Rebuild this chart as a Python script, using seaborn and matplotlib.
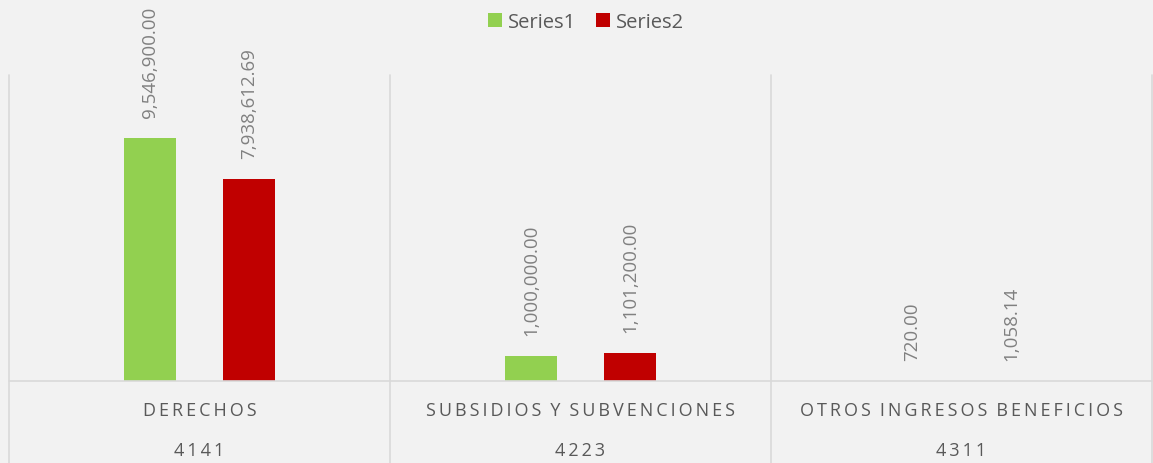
import matplotlib
matplotlib.use("Agg")
import matplotlib.pyplot as plt
import matplotlib.transforms as mtransforms
from matplotlib.lines import Line2D
import seaborn as sns
import pandas as pd

categories = ["DERECHOS", "SUBSIDIOS Y SUBVENCIONES", "OTROS INGRESOS BENEFICIOS"]
codes = ["4141", "4223", "4311"]
series1 = [9546900.00, 1000000.00, 720.00]
series2 = [7938612.69, 1101200.00, 1058.14]
series_names = ["Series1", "Series2"]
colors = ["#92d050", "#c00000"]

df = pd.DataFrame({
    "cat": categories * 2,
    "value": series1 + series2,
    "series": [series_names[0]] * 3 + [series_names[1]] * 3,
})

sns.set_theme(style="white")
plt.rcParams["font.family"] = ["Open Sans", "DejaVu Sans"]

W, H = 1153, 464
fig = plt.figure(figsize=(W / 100, H / 100), dpi=100, facecolor="#f2f2f2")
ax = fig.add_axes([9 / W, (H - 382) / H, 1143 / W, (382 - 76) / H])
ax.set_facecolor("#f2f2f2")

sns.barplot(data=df, x="cat", y="value", hue="series", order=categories,
            hue_order=series_names, palette=colors, width=0.52, gap=0.475,
            saturation=1, ax=ax, linewidth=0)

handles, labels = ax.get_legend_handles_labels()
if ax.get_legend() is not None:
    ax.get_legend().remove()

for cont, vals in zip(ax.containers, [series1, series2]):
    ax.bar_label(cont, labels=[f"{v:,.2f}" for v in vals], rotation=90,
                 padding=15, color="#808080", fontsize=13.5)

ax.set_xlim(-0.5, 2.5)
ax.set_ylim(0, 12e6)
ax.set_xticks([])
ax.set_yticks([])
ax.set_xlabel("")
ax.set_ylabel("")
for s in ax.spines.values():
    s.set_visible(False)

# baseline
ax.axhline(0, color="#d9d9d9", lw=1.2, clip_on=False)

# category separators
blend = mtransforms.blended_transform_factory(ax.transData, fig.transFigure)
for xb in [-0.5, 0.5, 1.5, 2.5]:
    fig.add_artist(Line2D([xb, xb], [0, (H - 76) / H], transform=blend,
                          color="#d9d9d9", lw=1.2))

TS = "\u2009"
def spaced(s):
    return (TS * 3).join(TS.join(w) for w in s.split(" "))

tblend = mtransforms.blended_transform_factory(ax.transData, ax.transAxes)
for i, (c, code) in enumerate(zip(categories, codes)):
    ax.text(i, -(411 - 382) / 306, spaced(c), transform=tblend, ha="center",
            va="center", fontsize=13, color="#595959")
    ax.text(i, -(451 - 382) / 306, spaced(code), transform=tblend, ha="center",
            va="center", fontsize=13, color="#595959")

fig.legend(handles, labels, loc="center", bbox_to_anchor=(586 / W, 1 - 23 / H),
           ncol=2, frameon=False, fontsize=14.5, handlelength=0.7,
           handleheight=0.7, handletextpad=0.3, columnspacing=1.0,
           labelcolor="#595959")

fig.savefig("out.png", dpi=100, facecolor=fig.get_facecolor())
